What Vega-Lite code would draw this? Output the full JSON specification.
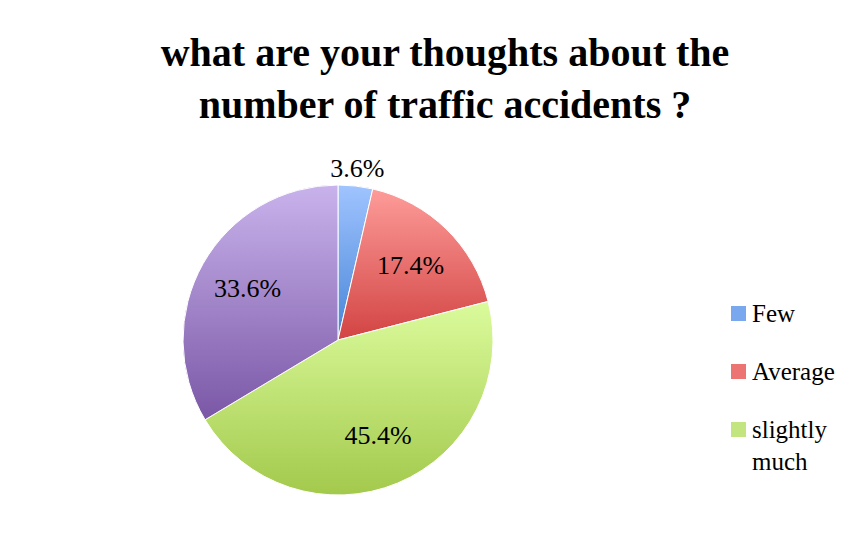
{
  "$schema": "https://vega.github.io/schema/vega-lite/v6.json",
  "autosize": "none",
  "width": 676,
  "height": 414,
  "padding": {"top": 133, "left": 0, "right": 191, "bottom": 0},
  "background": "white",
  "config": {"view": {"stroke": null}},
  "title": {
    "text": ["what are your thoughts about the", "number of traffic accidents ?"],
    "font": "Liberation Serif",
    "fontSize": 40,
    "fontWeight": "bold",
    "color": "#000000",
    "lineHeight": 52,
    "anchor": "middle",
    "dx": 107,
    "offset": 7
  },
  "data": {
    "values": [
      {"category": "Few", "value": 3.6, "label": "3.6%", "order": 1},
      {"category": "Average", "value": 17.4, "label": "17.4%", "order": 2},
      {"category": "slightly much", "value": 45.4, "label": "45.4%", "order": 3},
      {"category": "very much", "value": 33.6, "label": "33.6%", "order": 4}
    ]
  },
  "encoding": {
    "theta": {"field": "value", "type": "quantitative", "stack": true},
    "order": {"field": "order", "type": "quantitative"}
  },
  "layer": [
    {
      "mark": {"type": "arc", "outerRadius": 155, "stroke": "white", "strokeWidth": 1},
      "encoding": {
        "color": {
          "field": "category",
          "type": "nominal",
          "scale": {
            "domain": ["Few", "Average", "slightly much", "very much"],
            "range": ["#7aa8ee", "#ec7472", "#c3e57f", "#a289cc"]
          },
          "legend": {
            "values": ["Few", "Average", "slightly much"],
            "title": null,
            "orient": "none",
            "legendX": 726,
            "legendY": 168,
            "symbolType": "square",
            "symbolSize": 225,
            "symbolStrokeWidth": 0,
            "labelFont": "Liberation Serif",
            "labelFontSize": 25,
            "labelColor": "#000000",
            "labelOffset": 1,
            "labelLimit": 200,
            "labelBaseline": "alphabetic",
            "rowPadding": 32,
            "labelExpr": "datum.label == 'slightly much' ? ['slightly', 'much'] : datum.label",
            "encoding": {"labels": {"dy": {"value": 8}, "lineHeight": {"value": 32}}}
          }
        }
      }
    },
    {
      "mark": {"type": "arc", "outerRadius": 155, "stroke": "white", "strokeWidth": 1},
      "encoding": {
        "fill": {
          "condition": [
            {"test": "datum.category == 'Few'", "value": {"gradient": "linear", "x1": 0, "y1": 0, "x2": 0, "y2": 1, "stops": [{"offset": 0, "color": "#a0c4ff"}, {"offset": 1, "color": "#4684d6"}]}},
            {"test": "datum.category == 'Average'", "value": {"gradient": "linear", "x1": 0, "y1": 0, "x2": 0, "y2": 1, "stops": [{"offset": 0, "color": "#fd9c99"}, {"offset": 1, "color": "#d24443"}]}},
            {"test": "datum.category == 'slightly much'", "value": {"gradient": "linear", "x1": 0, "y1": 0, "x2": 0, "y2": 1, "stops": [{"offset": 0, "color": "#dbfb9c"}, {"offset": 1, "color": "#a3c94c"}]}}
          ],
          "value": {"gradient": "linear", "x1": 0, "y1": 0, "x2": 0, "y2": 1, "stops": [{"offset": 0, "color": "#c9b3ec"}, {"offset": 1, "color": "#7a57a6"}]}
        }
      }
    },
    {
      "mark": {"type": "text", "font": "Liberation Serif", "fontSize": 26, "color": "#000000", "baseline": "middle", "align": "center"},
      "encoding": {
        "text": {"field": "label", "type": "nominal"},
        "radius": {
          "field": "value",
          "type": "quantitative",
          "scale": {"type": "linear", "zero": false, "nice": false, "domain": [0, 4, 5, 100], "range": [172, 172, 104, 104]}
        }
      }
    }
  ]
}
